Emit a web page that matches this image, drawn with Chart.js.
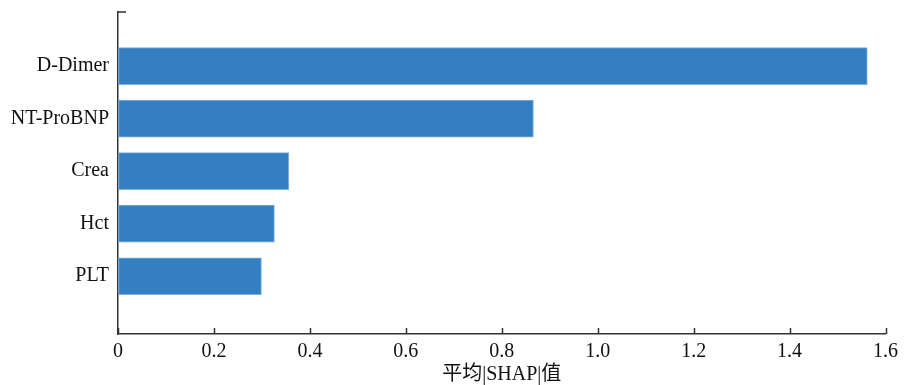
<!DOCTYPE html>
<html>
<head>
<meta charset="utf-8">
<script src="https://cdn.jsdelivr.net/npm/chart.js@4/dist/chart.umd.min.js"></script>
<style>
  html, body { margin: 0; padding: 0; background: #fff; }
  #wrap { width: 904px; height: 385px; }
</style>
</head>
<body>
<div id="wrap"><canvas id="c" width="904" height="385"></canvas></div>
<script>
// Mean |SHAP| value per feature
const features = ['D-Dimer', 'NT-ProBNP', 'Crea', 'Hct', 'PLT'];
const shapValues = [1.562, 0.866, 0.356, 0.326, 0.299];
const xTickValues = [0, 0.2, 0.4, 0.6, 0.8, 1.0, 1.2, 1.4, 1.6];
const xTitle = '平均|SHAP|值';

const axisColor = '#333333';
const barColor = 'rgb(52,127,194)';
const fontFamily = '"Liberation Serif", "Times New Roman", "Noto Sans CJK SC", serif';

// inward tick marks: along the x axis and the top end of the y axis
const innerTicks = {
  id: 'innerTicks',
  afterDraw(chart) {
    const { ctx, scales: { x, y } } = chart;
    ctx.save();
    ctx.strokeStyle = axisColor;
    ctx.lineWidth = 1.5;
    ctx.beginPath();
    xTickValues.forEach(v => {
      const px = Math.round(x.getPixelForValue(v)) + 0.5;
      ctx.moveTo(px, y.bottom);
      ctx.lineTo(px, y.bottom - 6);
    });
    const topY = y.top;
    ctx.moveTo(x.left, topY);
    ctx.lineTo(x.left + 8, topY);
    ctx.stroke();
    ctx.restore();
  }
};

new Chart(document.getElementById('c'), {
  type: 'bar',
  data: {
    datasets: [{
      data: features.map((f, i) => ({ x: shapValues[i], y: i + 1 })),
      backgroundColor: barColor,
      borderColor: 'rgba(110,170,225,0.9)',
      borderWidth: 1,
      borderSkipped: false,
      barThickness: 37
    }]
  },
  options: {
    indexAxis: 'y',
    responsive: false,
    animation: false,
    events: [],
    layout: { padding: { left: 0, right: 16, top: 0, bottom: 0 } },
    plugins: { legend: { display: false }, tooltip: { enabled: false } },
    scales: {
      x: {
        type: 'linear',
        min: 0,
        max: 1.6,
        afterFit(scale) { scale.height = 51; },
        grid: { display: true, drawOnChartArea: false, drawTicks: false },
        border: { display: true, color: axisColor, width: 1.5 },
        ticks: {
          stepSize: 0.2,
          color: '#111',
          font: { family: fontFamily, size: 20 },
          padding: 6,
          maxRotation: 0,
          autoSkip: false,
          callback: v => v === 0 ? '0' : Number(v).toFixed(1)
        },
        title: {
          display: true,
          text: xTitle,
          color: '#111',
          font: { family: fontFamily, size: 20 },
          padding: { top: 0, bottom: -2 }
        }
      },
      y: {
        type: 'linear',
        reverse: true,
        offset: false,
        min: -0.03,
        max: 6.1,
        afterFit(scale) { scale.width = 118; scale.paddingTop = 12; scale.paddingBottom = 0; },
        grid: { display: true, offset: false, drawOnChartArea: false, drawTicks: false },
        border: { display: true, color: axisColor, width: 1.5 },
        ticks: {
          stepSize: 1,
          autoSkip: false,
          color: '#111',
          font: { family: fontFamily, size: 20 },
          padding: 9,
          callback: v => features[v - 1] || ''
        }
      }
    }
  },
  plugins: [innerTicks]
});
</script>
</body>
</html>
